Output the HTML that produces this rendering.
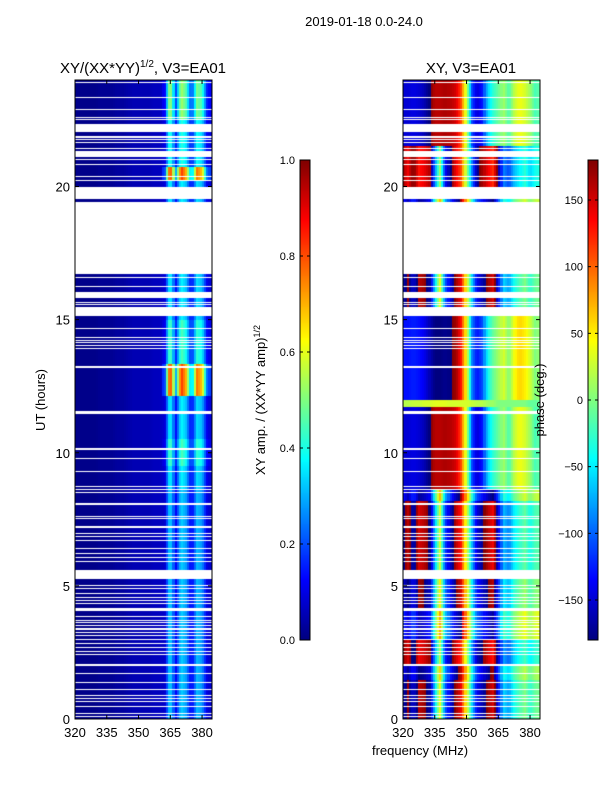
<!DOCTYPE html>
<html><head><meta charset="utf-8"><style>
html,body{margin:0;padding:0;background:#fff;}
#root{position:relative;width:600px;height:800px;font-family:"Liberation Sans",sans-serif;}
canvas{position:absolute;}
svg{position:absolute;left:0;top:0;}
</style></head><body>
<div id="root">
<canvas id="c1" width="137" height="639" style="left:75px;top:80px"></canvas>
<canvas id="c2" width="137" height="639" style="left:403px;top:80px"></canvas>
<canvas id="cb1" width="10" height="480" style="left:300px;top:160px"></canvas>
<canvas id="cb2" width="10" height="480" style="left:588px;top:160px"></canvas>
<svg id="ov" width="600" height="800" font-family="Liberation Sans, sans-serif" font-size="13">
<text x="364" y="26" text-anchor="middle">2019-01-18 0.0-24.0</text>
<text x="143" y="73" text-anchor="middle" font-size="15">XY/(XX*YY)<tspan font-size="10" dy="-6">1/2</tspan><tspan dy="6">, V3=EA01</tspan></text>
<text x="471" y="73" text-anchor="middle" font-size="15">XY, V3=EA01</text>
<text transform="translate(45,400) rotate(-90)" text-anchor="middle">UT (hours)</text>
<text x="420" y="755" text-anchor="middle">frequency (MHz)</text>
<text transform="translate(265,400) rotate(-90)" text-anchor="middle">XY amp. / (XX*YY amp)<tspan font-size="9" dy="-5">1/2</tspan></text>
<text transform="translate(544,400) rotate(-90)" text-anchor="middle">phase (deg.)</text>
<g id="axes"></g>
</svg>
</div>
<script>
// ---- data ----
const freqNodes=[320,322.5,325,327.5,330,332.5,335,337.5,340,342.5,345,347.5,350,352.5,355,357.5,360,362.5,365,367.5,370,372.5,375,377.5,380,382.5,385];
const ampProfile=[0.01,0.01,0.01,0.01,0.01,0.02,0.02,0.02,0.03,0.03,0.04,0.05,0.05,0.05,0.05,0.06,0.06,0.1,0.45,0.15,0.42,0.35,0.14,0.38,0.34,0.12,0.06];
const phaseProfA=[-150,-150,-145,-150,-160,180,160,160,165,160,150,110,20,-110,-150,-130,-60,-30,-10,10,-20,20,40,30,10,-20,-10];
const phaseProfB=[-160,170,-150,160,170,-170,-60,40,-100,-150,170,140,40,-60,-140,-160,170,150,-140,-60,-80,-40,-20,0,-30,-10,0];
const phaseProfE=[20,20,25,25,30,30,35,35,35,30,30,30,30,25,20,20,10,10,0,0,0,0,0,0,-10,-10,-10];
const phaseSegStart=[0,1.5,2.1,3.0,4.1,5.6,8.2,8.6,11.7,12.0,15.1,19.4,20.0,21.5];
const phaseSegProfile=["B","B","B","B","B","B","B","A","E","A","B","B","B","A"];
const phaseSegOffset=[0,20,-20,40,10,-10,30,0,0,20,0,30,-30,0];
const ampSegStart=[0,8.6,9.5,10.5,12.1,13.3,15.0,16.7,20.2,20.7,22.5];
const ampSegLevel=[0.8,0.9,1.1,0.9,2.0,1.1,0.9,0.9,2.0,1.0,1.3];
const gapStart=[0.07,0.19,0.44,0.63,0.76,0.88,1.07,1.38,1.70,2.0,2.42,2.54,2.67,2.82,2.97,3.14,3.23,3.35,3.48,3.60,3.70,3.83,4.03,4.33,4.45,4.58,4.70,4.89,5.01,5.26,5.89,6.05,6.20,6.39,6.70,6.83,6.95,7.15,7.52,7.60,8.06,8.48,8.61,8.73,9.29,9.77,10.10,11.45,13.18,13.88,14.01,14.11,14.21,14.31,14.62,15.1,15.55,15.65,15.8,16.25,16.55,16.71,19.5,20.18,20.37,20.81,20.98,21.1,21.38,21.64,21.75,21.85,22.05,22.48,22.56,22.88,23.33,23.89];
const gapEnd=[0.11,0.23,0.48,0.68,0.80,0.92,1.11,1.42,1.74,2.1,2.46,2.58,2.71,2.86,3.01,3.18,3.27,3.39,3.52,3.64,3.74,3.87,4.16,4.37,4.49,4.62,4.74,4.93,5.05,5.6,5.93,6.09,6.24,6.43,6.74,6.87,6.99,7.23,7.58,7.66,8.14,8.52,8.65,8.77,9.33,9.81,10.14,11.55,13.22,13.92,14.05,14.15,14.25,14.35,14.66,15.47,15.59,15.69,16.04,16.29,16.59,19.38,20.0,20.22,20.41,20.85,21.02,21.3,21.42,21.68,21.79,21.89,22.35,22.52,22.6,22.92,23.37,23.93];
const xTicks=[320,335,350,365,380];
const yTicks=[0,5,10,15,20];
const ampTicks=[0.0,0.2,0.4,0.6,0.8,1.0];
const phaseTicks=[-150,-100,-50,0,50,100,150];

// ---- scales ----
const X0=320,X1=384.7,Y0=0,Y1=24,W=137,H=639;
const xs=f=>(f-X0)/(X1-X0)*W;
const ys=t=>H-(t-Y0)/(Y1-Y0)*H;
function jet(v){v=Math.max(0,Math.min(1,v));const c=x=>Math.round(255*Math.max(0,Math.min(1,1.5-Math.abs(x))));return `rgb(${c(4*v-3)},${c(4*v-2)},${c(4*v-1)})`;}
function interp(prof,f){let i=Math.min(freqNodes.length-2,Math.max(0,Math.floor((f-320)/2.5)));const a=prof[i],b=prof[i+1],u=(f-freqNodes[i])/2.5;return a+(b-a)*u;}
function interpAng(prof,f){let i=Math.min(freqNodes.length-2,Math.max(0,Math.floor((f-320)/2.5)));let a=prof[i],b=prof[i+1],u=(f-freqNodes[i])/2.5;let d=b-a;if(d>180)d-=360;if(d<-180)d+=360;return a+d*u;}
const wrap=p=>((p+180)%360+360)%360-180;
function seg(starts,t){let k=0;for(let i=0;i<starts.length;i++)if(t>=starts[i])k=i;return k;}
function isGap(t){for(let i=0;i<gapStart.length;i++)if(t>=gapStart[i]&&t<gapEnd[i])return true;return false;}
const profs={A:phaseProfA,B:phaseProfB,E:phaseProfE};

const g1=document.getElementById('c1').getContext('2d');
const g2=document.getElementById('c2').getContext('2d');
const dt=0.04;
for(let t=0;t<24;t+=dt){
  const tc=t+dt/2; if(isGap(tc))continue;
  const ya=Math.round(ys(t+dt)), yb=Math.round(ys(t)); if(yb<=ya)continue;
  const lv=ampSegLevel[seg(ampSegStart,tc)];
  const ps=seg(phaseSegStart,tc), pr=profs[phaseSegProfile[ps]], off=phaseSegOffset[ps];
  for(let f=320;f<385;f+=1){
    const fc=f+0.5, xa=Math.round(xs(f)), xb=Math.round(xs(f+1));
    const a=interp(ampProfile,fc); const amp=a<0.08?a:a*lv;
    g1.fillStyle=jet(amp); g1.fillRect(xa,ya,xb-xa,yb-ya);
    const ph=wrap(interpAng(pr,fc)+off);
    g2.fillStyle=jet((ph+180)/360); g2.fillRect(xa,ya,xb-xa,yb-ya);
  }
}
// colorbars
const b1=document.getElementById('cb1').getContext('2d'),b2=document.getElementById('cb2').getContext('2d');
for(let i=0;i<480;i++){const v=1-i/479;b1.fillStyle=jet(v);b1.fillRect(0,i,10,1);b2.fillStyle=jet(v);b2.fillRect(0,i,10,1);}

// axes
const NS='http://www.w3.org/2000/svg',ax=document.getElementById('axes');
function el(tag,attrs,txt){const e=document.createElementNS(NS,tag);for(const k in attrs)e.setAttribute(k,attrs[k]);if(txt!==undefined)e.textContent=txt;ax.appendChild(e);return e;}
[75,403].forEach((L,pi)=>{
  const r=el('rect',{x:L,y:80,width:W,height:H,fill:'none',stroke:'#000','stroke-width':1});
  
  
  xTicks.forEach(v=>{const x=L+xs(v);
    el('line',{x1:x,x2:x,y1:719,y2:715,stroke:'#000'});el('line',{x1:x,x2:x,y1:80,y2:84,stroke:'#000'});
    const tx=el('text',{x:x,y:737,'text-anchor':'middle'},String(v));
    
    });
  yTicks.forEach(v=>{const y=80+ys(v);
    el('line',{x1:L,x2:L+4,y1:y,y2:y,stroke:'#000'});el('line',{x1:L+W-4,x2:L+W,y1:y,y2:y,stroke:'#000'});
    const tx=el('text',{x:L-5,y:y+5,'text-anchor':'end'},String(v));
    
    });
});
[[300,ampTicks,0,1,'amp'],[588,phaseTicks,-180,180,'phase']].forEach(([L,ticks,lo,hi,nm])=>{
  const r=el('rect',{x:L,y:160,width:10,height:480,fill:'none',stroke:'#000'});
  
  
  ticks.forEach(v=>{const y=640-(v-lo)/(hi-lo)*480;
    el('line',{x1:L,x2:L+3,y1:y,y2:y,stroke:'#000'});el('line',{x1:L+7,x2:L+10,y1:y,y2:y,stroke:'#000'});
    const s=nm==='amp'?v.toFixed(1):(v<0?'\u2212'+(-v):String(v));
    const tx=el('text',{x:L-5,y:y+4,'text-anchor':'end','font-size':11},s);
    
    });
});
</script>
</body></html>
